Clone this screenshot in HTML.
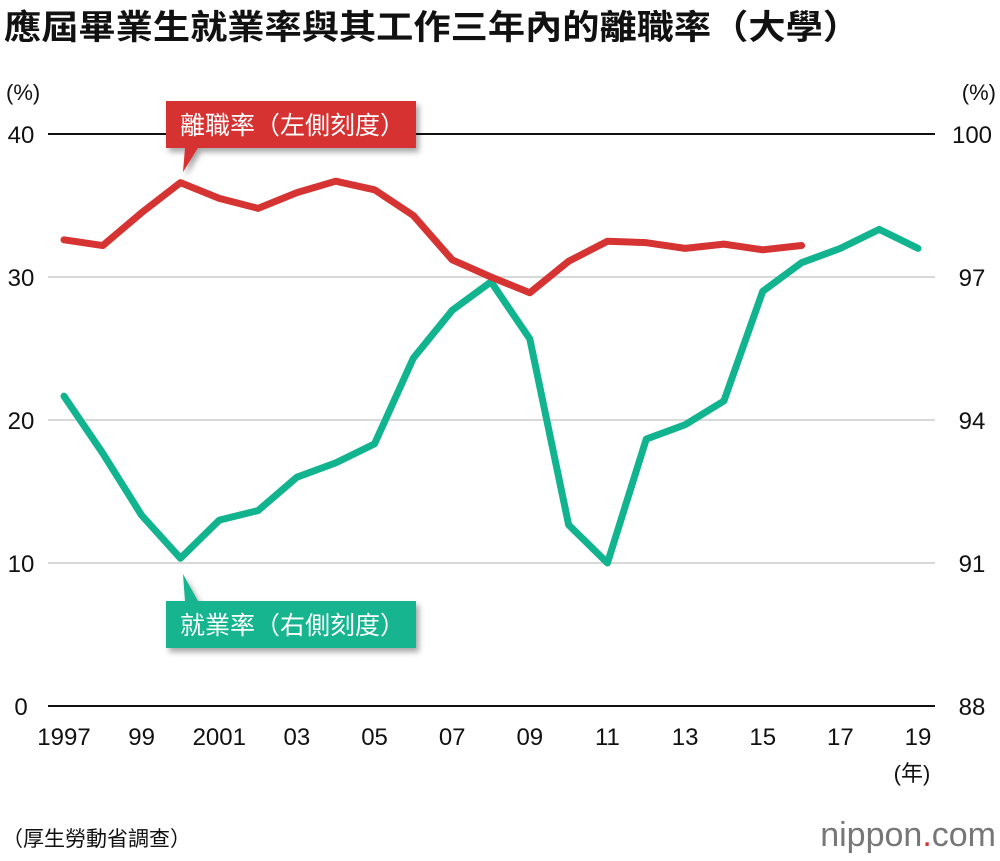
<!DOCTYPE html>
<html><head><meta charset="utf-8"><style>
body{margin:0;background:#fff;width:1000px;height:856px;overflow:hidden;font-family:"Liberation Sans","Noto Sans CJK TC",sans-serif;}
svg text{font-family:"Liberation Sans","Noto Sans CJK TC",sans-serif;}
</style></head><body>
<svg id="chart" width="1000" height="856">
<defs><filter id="sh" x="-10%" y="-20%" width="130%" height="160%"><feDropShadow dx="3" dy="4" stdDeviation="3" flood-color="#000" flood-opacity="0.35"/></filter></defs>
<text x="4" y="39" font-size="34" font-weight="bold" fill="#111" textLength="856" lengthAdjust="spacingAndGlyphs">應屆畢業生就業率與其工作三年內的離職率（大學）</text>
<text x="6" y="100" font-size="22" fill="#111">(%)</text>
<text x="996" y="100" font-size="22" fill="#111" text-anchor="end">(%)</text>
<g id="grid"></g><g id="lines"></g><g id="ticks"></g>
<text x="912" y="781" font-size="22" fill="#111" text-anchor="middle">(年)</text>
<text x="2" y="846" font-size="21" fill="#111">（厚生勞動省調查）</text>
<text x="996" y="846" font-size="34" fill="#777" text-anchor="end">nippon<tspan fill="#d63333">.</tspan>com</text>
<g filter="url(#sh)">
<path d="M166,101H416V148H198L183,172L185,148H166Z" fill="#d63333"/>
<text x="180" y="134" font-size="25" fill="#fff">離職率（左側刻度）</text></g>
<g filter="url(#sh)">
<path d="M166,601H185L183,574L198,601H416V648H166Z" fill="#12b48f"/>
<text x="180" y="634" font-size="25" fill="#fff">就業率（右側刻度）</text></g>
</svg>
<script>
const years=[1997,1998,1999,2000,2001,2002,2003,2004,2005,2006,2007,2008,2009,2010,2011,2012,2013,2014,2015,2016,2017,2018,2019];
const turnover=[32.6,32.2,34.5,36.6,35.5,34.8,35.9,36.7,36.1,34.3,31.2,30.0,28.9,31.1,32.5,32.4,32.0,32.3,31.9,32.2];
const employment=[94.5,93.3,92.0,91.1,91.9,92.1,92.8,93.1,93.5,95.3,96.3,96.9,95.7,91.8,91.0,93.6,93.9,94.4,96.7,97.3,97.6,98.0,97.6];
const leftTicks=[0,10,20,30,40];
const rightTicks=[88,91,94,97,100];
const xLabels=["1997","99","2001","03","05","07","09","11","13","15","17","19"];
const NS="http://www.w3.org/2000/svg";
const X0=64,X1=918,Y0=706,Y1=134;
const x=yr=>X0+(yr-1997)*(X1-X0)/22;
const yl=v=>Y0-(v/40)*(Y0-Y1);
const yr_=v=>Y0-((v-88)/12)*(Y0-Y1);
function mk(tag,attrs,parent){const e=document.createElementNS(NS,tag);for(const k in attrs)e.setAttribute(k,attrs[k]);parent.appendChild(e);return e;}
const grid=document.getElementById('grid'),ticks=document.getElementById('ticks'),lines=document.getElementById('lines');
leftTicks.forEach((v,i)=>{
 const edge=(v===0||v===40);
 const l=mk('line',{x1:48,x2:935,y1:yl(v),y2:yl(v),stroke:edge?'#111':'#ccc','stroke-width':edge?2:1.5},grid);
 
 
 const t=mk('text',{x:21,y:yl(v)+9,'font-size':24,'text-anchor':'middle',fill:'#111'},ticks);t.textContent=v;
 
 
 const t2=mk('text',{x:972,y:yr_(rightTicks[i])+9,'font-size':24,'text-anchor':'middle',fill:'#111'},ticks);t2.textContent=rightTicks[i];
 
 
});
xLabels.forEach((s,i)=>{
 const t=mk('text',{x:x(1997+2*i),y:745,'font-size':24,'text-anchor':'middle',fill:'#111'},ticks);t.textContent=s;
 
 
});
const pg=mk('polyline',{points:employment.map((v,i)=>x(years[i])+','+yr_(v)).join(' '),fill:'none',stroke:'#12b48f','stroke-width':7,'stroke-linejoin':'round','stroke-linecap':'round'},lines);


const pr=mk('polyline',{points:turnover.map((v,i)=>x(years[i])+','+yl(v)).join(' '),fill:'none',stroke:'#d63333','stroke-width':7,'stroke-linejoin':'round','stroke-linecap':'round'},lines);


</script>
</body></html>
